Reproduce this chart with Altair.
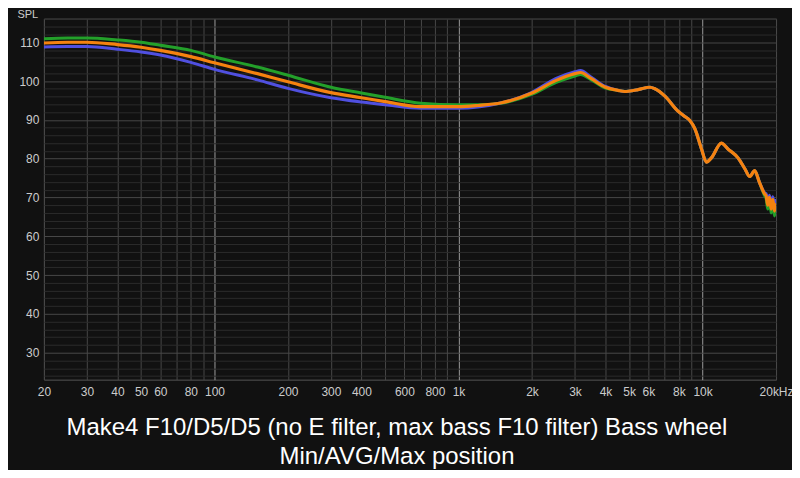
import json
import altair as alt
import pandas as pd

freq = [20, 25, 30, 40, 50, 60, 80, 100, 150, 200, 300, 400, 500, 700,
        1000, 1200, 1500, 2000, 2500, 3000, 3160, 3500,
        4000, 4500, 4800, 5000, 5450, 6090, 6380, 7010,
        7940, 8400, 8870, 9300, 9900, 10370, 10870, 11940,
        12700, 13970, 14900, 15600, 16350, 17100, 17970,
        18200, 18500, 18800, 19100, 19400, 19700, 20000]

spl_avg = [109.8, 110.0, 110.0, 109.4, 108.7, 107.9, 106.3, 104.7, 101.9, 99.8, 97.0, 95.7, 94.7, 93.4,
           93.4, 93.7, 94.4, 96.9, 100.1, 101.9, 102.2, 100.6,
           98.4, 97.6, 97.3, 97.4, 97.8, 98.4, 98.0, 96.1,
           92.2, 91.0, 89.8, 87.7, 82.5, 79.1, 80.2, 84.0,
           82.5, 80.2, 77.4, 75.4, 76.9, 73.9, 70.9,
           70.5, 68.0, 70.0, 67.0, 69.5, 66.5, 68.5]

spl_min = [108.8, 108.9, 108.9, 108.2, 107.5, 106.7, 104.8, 103.0, 100.3, 98.1, 95.7, 94.6, 93.9, 93.0,
           93.0, 93.3, 94.4, 97.1, 100.6, 102.4, 102.7, 101.0,
           98.6, 97.6, 97.3, 97.4, 97.8, 98.4, 98.0, 96.1,
           92.2, 91.0, 89.8, 87.7, 82.5, 79.1, 80.2, 84.0,
           82.5, 80.2, 77.4, 75.4, 76.9, 73.9, 71.2,
           71.0, 68.8, 70.6, 68.0, 70.2, 67.6, 69.6]

spl_max = [110.9, 111.1, 111.1, 110.6, 110.0, 109.2, 107.9, 106.2, 103.6, 101.5, 98.4, 96.9, 95.8, 94.3,
           93.9, 93.9, 94.3, 96.6, 99.6, 101.3, 101.7, 100.3,
           98.2, 97.6, 97.3, 97.4, 97.8, 98.4, 98.0, 96.1,
           92.2, 91.0, 89.8, 87.7, 82.5, 79.1, 80.2, 84.0,
           82.5, 80.2, 77.4, 75.4, 76.9, 73.9, 70.4,
           69.8, 67.0, 69.2, 66.0, 68.6, 65.2, 67.5]

x_ticks = [20, 30, 40, 50, 60, 70, 80, 90,
           100, 200, 300, 400, 500, 600, 700, 800, 900,
           1000, 2000, 3000, 4000, 5000, 6000, 7000, 8000, 9000,
           10000, 20000]
x_labels = ["20", "30", "40", "50", "60", "", "80", "",
            "100", "200", "300", "400", "", "600", "", "800", "",
            "1k", "2k", "3k", "4k", "5k", "6k", "", "8k", "",
            "10k", "20kHz"]
y_ticks = list(range(24, 117, 2))
y_labels = [str(v) if (v % 10 == 0 and 30 <= v <= 110) else "" for v in y_ticks]

title_lines = ["Make4 F10/D5/D5 (no E filter, max bass F10 filter) Bass wheel",
               "Min/AVG/Max position"]

df = pd.DataFrame({"freq": freq, "Min": spl_min, "AVG": spl_avg, "Max": spl_max})

x_label_expr = f"{json.dumps(x_labels)}[indexof({json.dumps(x_ticks)}, datum.value)]"
y_label_expr = f"{json.dumps(y_labels)}[indexof({json.dumps(y_ticks)}, datum.value)]"

x_enc = alt.X(
    "freq:Q",
    scale=alt.Scale(type="log", domain=[20, 20000], nice=False),
    axis=alt.Axis(
        values=x_ticks, labelExpr=x_label_expr, title=None, domain=False, ticks=False,
        labelOverlap=False, labelFlush=False, labelPadding=7, labelFontSize=12,
        labelColor="#cccccc", labelFont="Liberation Sans",
        gridColor={"condition": {"test": "datum.value == 100 || datum.value == 1000 || datum.value == 10000",
                                 "value": "#9a9a9a"}, "value": "#474747"},
        gridWidth=1,
    ),
)


def y_enc(field):
    return alt.Y(
        f"{field}:Q",
        scale=alt.Scale(domain=[23.05, 116.1], nice=False, zero=False),
        axis=alt.Axis(
            values=y_ticks, labelExpr=y_label_expr, domain=False, ticks=False,
            labelOverlap=False, labelFlush=False, labelPadding=5, labelFontSize=12,
            labelColor="#cccccc", labelFont="Liberation Sans",
            title="SPL", titleAngle=0, titleAlign="left", titleBaseline="alphabetic",
            titleX=-27, titleY=-1, titleFontSize=11, titleFontWeight="normal",
            titleColor="#cccccc", titleFont="Liberation Sans",
            gridColor={"condition": {"test": "datum.value % 10 == 0", "value": "#474747"},
                       "value": "#2b2b2b"},
            gridWidth=1,
        ),
    )


base = alt.Chart(df)
green = base.mark_line(color="#23a02a", strokeWidth=3, interpolate="monotone", clip=True).encode(x=x_enc, y=y_enc("Max"))
blue = base.mark_line(color="#5050e0", strokeWidth=3, interpolate="monotone", clip=True).encode(x=x_enc, y=y_enc("Min"))
orange = base.mark_line(color="#f5820f", strokeWidth=3.2, interpolate="monotone", clip=True).encode(x=x_enc, y=y_enc("AVG"))

chart = alt.layer(green, blue, orange).properties(
    width=734, height=362,
    background="#111111",
    padding={"left": 36, "top": 10, "right": 16, "bottom": 90},
    autosize=alt.AutoSizeParams(type="none"),
    title=alt.TitleParams(
        text=title_lines, orient="bottom", anchor="middle", frame="group",
        fontSize=24, font="Liberation Sans", fontWeight="normal", color="#ffffff",
        lineHeight=30, offset=18, dx=-13,
    ),
).configure_view(stroke="#555555", fill="#111111")

chart.save("out.html", embed_options={"renderer": "svg", "actions": False})
